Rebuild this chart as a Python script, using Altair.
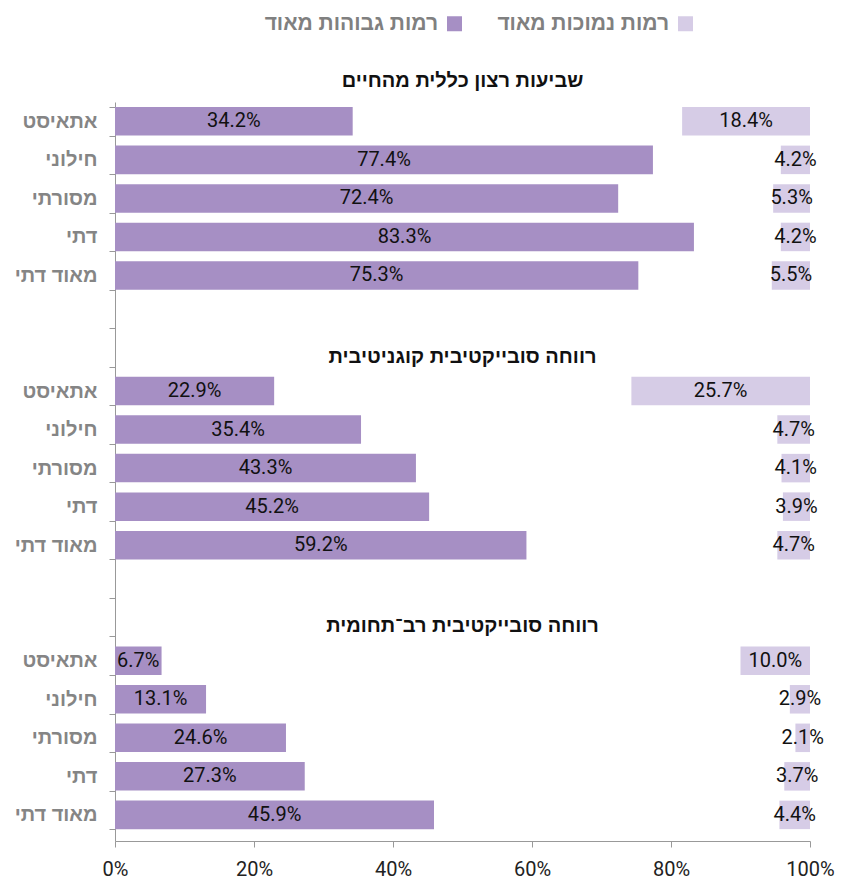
import altair as alt
import pandas as pd

categories = ["אתאיסט", "חילוני", "מסורתי", "דתי", "מאוד דתי"]
section_titles = [
    "שביעות רצון כללית מהחיים",
    "רווחה סובייקטיבית קוגניטיבית",
    "רווחה סובייקטיבית רב־תחומית",
]
series_high = "רמות גבוהות מאוד"
series_low = "רמות נמוכות מאוד"

high_values = [
    [34.2, 77.4, 72.4, 83.3, 75.3],
    [22.9, 35.4, 43.3, 45.2, 59.2],
    [6.7, 13.1, 24.6, 27.3, 45.9],
]
low_values = [
    [18.4, 4.2, 5.3, 4.2, 5.5],
    [25.7, 4.7, 4.1, 3.9, 4.7],
    [10.0, 2.9, 2.1, 3.7, 4.4],
]

rows = []
domain = []
title_rows = []
for g in range(3):
    if g > 0:
        domain.append(f"b{g}|")
        domain.append(f"t{g}|")
        title_rows.append({"key": f"t{g}|", "title": section_titles[g], "x": 50})
    for i, c in enumerate(categories):
        key = f"g{g}_{i}|{c}"
        domain.append(key)
        h = high_values[g][i]
        l = low_values[g][i]
        rows.append({"key": key, "series": series_high, "start": 0, "end": h,
                     "mid": h / 2, "label": f"{h:.1f}%"})
        rows.append({"key": key, "series": series_low, "start": 100 - l, "end": 100,
                     "mid": 100 - l / 2, "label": f"{l:.1f}%"})

df = pd.DataFrame(rows)
tdf = pd.DataFrame(title_rows)

DARK = "#A68FC4"
LIGHT = "#D6CCE6"
HEB = "Liberation Sans"
NUM = "Roboto"

yscale = alt.Scale(domain=domain, paddingInner=0.26, paddingOuter=0.22, align=0.3)
yenc = alt.Y("key:N", sort=domain, scale=yscale,
             axis=alt.Axis(title=None, labelExpr="split(datum.value, '|')[1]",
                           tickBand="extent", labelFont=HEB, labelFontSize=20,
                           labelFontWeight="bold", labelColor="#858585", labelPadding=12,
                           tickSize=6, tickColor="#999999", domainColor="#999999"))
xscale = alt.Scale(domain=[0, 100], nice=False)

# square drawn to the right of the (right-aligned) label, in units of the symbol radius
square_path = "M23.93,-1H25.93V1H23.93Z"

bars = alt.Chart(df).mark_bar().encode(
    x=alt.X("start:Q", scale=xscale,
            axis=alt.Axis(title=None, values=[0, 20, 40, 60, 80, 100], labelExpr="datum.value + '%'",
                          grid=False, labelFlush=False, labelFont=NUM, labelFontSize=20,
                          labelColor="#222222", tickColor="#999999", domainColor="#999999",
                          tickSize=6, labelPadding=12)),
    x2="end:Q",
    y=yenc,
    color=alt.Color("series:N", scale=alt.Scale(domain=[series_high, series_low], range=[DARK, LIGHT]),
                    legend=alt.Legend(title=None, orient="none", direction="horizontal",
                                      legendX=142, legendY=-89, symbolType=square_path,
                                      symbolSize=225, symbolStrokeWidth=0, labelAlign="right",
                                      labelOffset=160, labelFont=HEB,
                                      labelFontSize=21, labelFontWeight="bold",
                                      labelColor="#808080", columnPadding=26, labelLimit=300)),
)

texts = alt.Chart(df).mark_text(font=NUM, fontSize=20, color="#111111").encode(
    x=alt.X("mid:Q", scale=xscale),
    y=alt.Y("key:N", sort=domain, scale=yscale),
    text="label:N",
)

titles = alt.Chart(tdf).mark_text(font=HEB, fontSize=20, fontWeight="bold", color="#111111", dy=4).encode(
    x=alt.X("x:Q", scale=xscale),
    y=alt.Y("key:N", sort=domain, scale=yscale),
    text="title:N",
)

chart = alt.layer(bars, texts, titles).properties(
    width=695, height=739,
    padding={"left": 6, "top": 5, "right": 5, "bottom": 0},
    title=alt.Title(section_titles[0], font=HEB, fontSize=20, fontWeight="bold", color="#111111",
                    anchor="middle", frame="group", offset=-78),
).configure(background="white").configure_view(stroke=None)

chart.save("out.html", embed_options={"renderer": "svg", "actions": False})
